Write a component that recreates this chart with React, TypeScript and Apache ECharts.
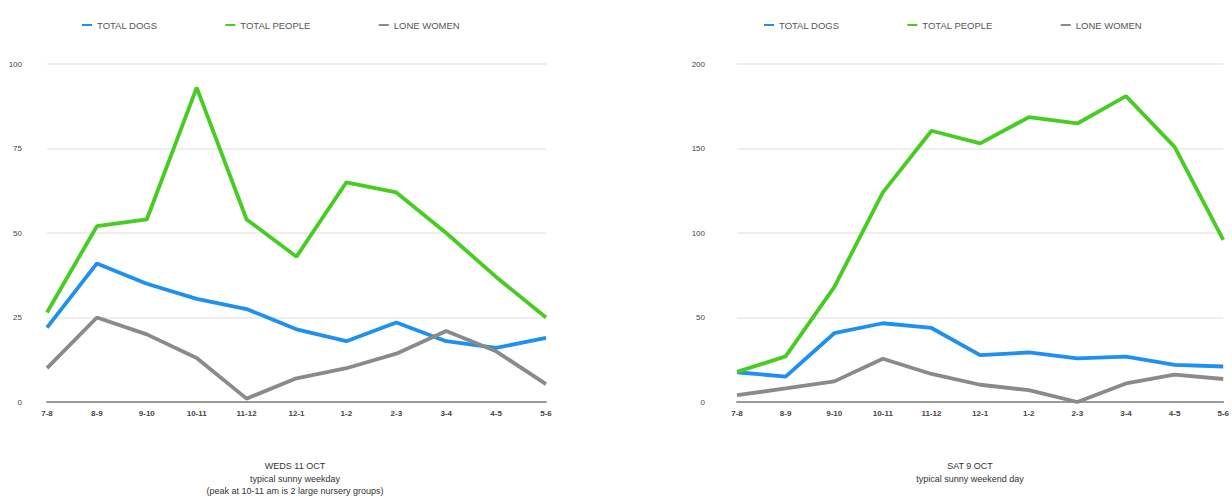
import React, { useEffect, useRef } from "react";
import * as echarts from "echarts";

const hours = ["7-8", "8-9", "9-10", "10-11", "11-12", "12-1", "1-2", "2-3", "3-4", "4-5", "5-6"];

const wedDogs = [22, 41, 35, 30.5, 27.5, 21.5, 18, 23.5, 18, 16, 19];
const wedPeople = [26.5, 52, 54, 93, 54, 43, 65, 62, 50, 37, 25];
const wedWomen = [10, 25, 20, 13, 1, 7, 10, 14.3, 21, 15, 5.3];

const satDogs = [17.6, 15, 40.7, 46.6, 43.8, 27.7, 29.3, 25.8, 26.8, 22, 21];
const satPeople = [17.8, 27, 68, 124, 160.5, 153, 168.5, 164.8, 181, 151, 96];
const satWomen = [4, 8, 12.2, 25.6, 16.6, 10.2, 7, 0, 11, 16.2, 13.6];

const leftTitle = "WEDS 11 OCT\ntypical sunny weekday\n(peak at 10-11 am is 2 large nursery groups)";
const rightTitle = "SAT 9 OCT\ntypical sunny weekend day";

const names = ["TOTAL DOGS", "TOTAL PEOPLE", "LONE WOMEN"];
const colors = ["#1e90f0", "#47cc22", "#8a8a8a"];

export default function App() {
  const ref = useRef<HTMLDivElement>(null);
  useEffect(() => {
    if (!ref.current) return;
    const chart = echarts.init(ref.current, undefined, { renderer: "svg" });
    const font = "Liberation Sans, Arial, sans-serif";
    const xAxis = (gridIndex: number) => ({
      type: "category",
      gridIndex,
      data: hours,
      boundaryGap: false,
      axisLine: { lineStyle: { color: "#9a9a9a", width: 2 } },
      axisTick: { show: false },
      axisLabel: { color: "#444", fontSize: 8, fontFamily: font, fontWeight: "bold", margin: 7, interval: 0 },
      splitLine: { show: false },
    });
    const yAxis = (gridIndex: number, max: number, interval: number, margin: number) => ({
      type: "value",
      gridIndex,
      min: 0,
      max,
      interval,
      axisLine: { show: false },
      axisTick: { show: false },
      axisLabel: { color: "#444", fontSize: 8, fontFamily: font, margin },
      splitLine: { lineStyle: { color: "#e8e8e8", width: 1.5 } },
    });
    const mk = (name: string, idx: number, data: number[], color: string) => ({
      name,
      type: "line",
      xAxisIndex: idx,
      yAxisIndex: idx,
      data,
      showSymbol: false,
      symbol: "none",
      lineStyle: { color, width: 3.8 },
      itemStyle: { color },
    });
    const legend = (left: number) => ({
      left,
      top: 15,
      data: names,
      icon: "rect",
      itemWidth: 10,
      itemHeight: 2,
      itemGap: 68,
      textStyle: { fontSize: 9.5, color: "#555", fontFamily: font },
    });
    chart.setOption({
      animation: false,
      backgroundColor: "#fff",
      color: colors,
      legend: [legend(77), legend(759)],
      grid: [
        { left: 47, right: 1232 - 546, top: 64, bottom: 102 },
        { left: 737, right: 6, top: 64, bottom: 102 },
      ],
      xAxis: [xAxis(0), xAxis(1)],
      yAxis: [yAxis(0, 100, 25, 25), yAxis(1, 200, 50, 32)],
      title: [
        {
          text: leftTitle,
          left: 290,
          top: 455,
          textAlign: "center",
          textStyle: { fontSize: 9, fontWeight: "normal", color: "#333", lineHeight: 12.5, fontFamily: font },
        },
        {
          text: rightTitle,
          left: 965,
          top: 455,
          textAlign: "center",
          textStyle: { fontSize: 9, fontWeight: "normal", color: "#333", lineHeight: 12.5, fontFamily: font },
        },
      ],
      series: [
        mk(names[0], 0, wedDogs, colors[0]),
        mk(names[1], 0, wedPeople, colors[1]),
        mk(names[2], 0, wedWomen, colors[2]),
        mk(names[0], 1, satDogs, colors[0]),
        mk(names[1], 1, satPeople, colors[1]),
        mk(names[2], 1, satWomen, colors[2]),
      ],
    });
    return () => chart.dispose();
  }, []);
  return <div ref={ref} style={{ position: "fixed", left: 0, top: 0, width: 1232, height: 504 }} />;
}
